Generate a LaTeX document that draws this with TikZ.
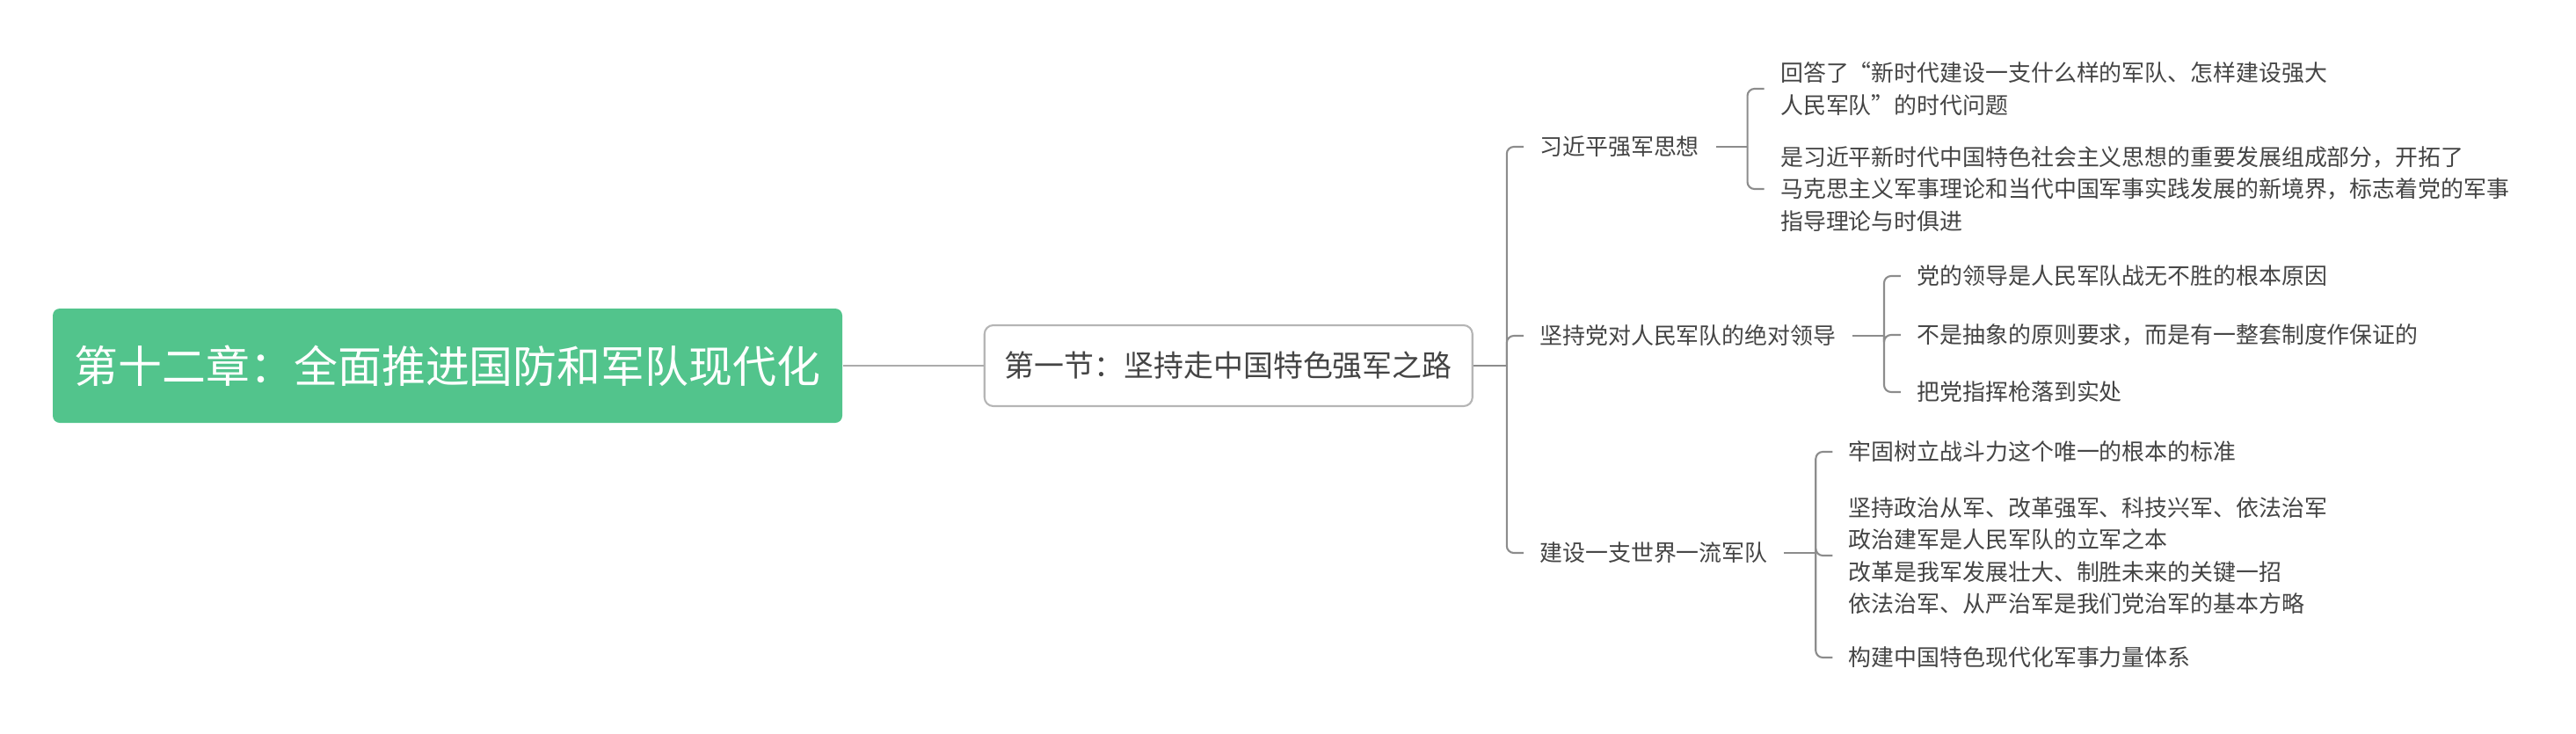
\documentclass[tikz,border=0pt]{standalone}
\usepackage{fontspec}
\newfontfamily\cjk{Noto Sans CJK SC}
\usepackage{tikz}
\usetikzlibrary{positioning}
\definecolor{ColorRoot}{HTML}{52C48C}
\definecolor{ColorLine}{HTML}{8C8C8C}
\definecolor{ColorRootLine}{HTML}{ABABAB}
\definecolor{ColorBorder}{HTML}{B5B5B5}
\definecolor{ColorText}{HTML}{444444}

\begin{document}
\begin{tikzpicture}[
root/.style={
	rectangle,
	fill=ColorRoot,
	rounded corners=0.8mm,
	minimum width=8.98cm,
	minimum height=1.3cm,
	inner sep=0mm,
	font=\cjk\fontsize{14.2pt}{17pt}\selectfont,
	text=white},
section/.style={
	rectangle,
	draw=ColorBorder,
	line width=0.6pt,
	fill=white,
	rounded corners=1mm,
	minimum width=5.55cm,
	minimum height=0.92cm,
	inner sep=0mm,
	font=\cjk\fontsize{9.65pt}{12pt}\selectfont,
	text=ColorText},
topic/.style={
	anchor=west,
	inner xsep=1.8mm,
	inner ysep=1mm,
	font=\cjk\fontsize{7.37pt}{10.35pt}\selectfont,
	text=ColorText},
leaf/.style={
	topic,
	align=left},
link/.style={
	draw,
	line width=0.6pt,
	color=ColorLine,
	rounded corners=0.8mm},
rootlink/.style={
	draw,
	line width=0.6pt,
	color=ColorRootLine}]

\useasboundingbox (0,0) rectangle (29.30,-8.34);

%Root and section
\node[root] (root) at (5.09,-4.16) {第十二章：全面推进国防和军队现代化};
\node[section, right = 1.6cm of root] (sec) {第一节：坚持走中国特色强军之路};
\path[rootlink] (root) to (sec);

\coordinate[right = 3.8mm of sec] (jsec);
\coordinate[right = 1.9mm of jsec] (ksec);

%Topics
\node[topic] (t1) at (ksec |- 0,-1.67) {习近平强军思想};
\node[topic] (t2) at (ksec |- 0,-3.82) {坚持党对人民军队的绝对领导};
\node[topic] (t3) at (ksec |- 0,-6.29) {建设一支世界一流军队};

\path[link] (sec) to (jsec);
\foreach \i in {1,2,3} {
	\path[link] (jsec) |- (t\i.west);
	\coordinate[right = 3.6mm of t\i] (j\i);
	\coordinate[right = 1.9mm of j\i] (k\i);
	\path[link] (t\i) to (j\i);
}

%Leaves
\node[leaf] (l11) at (k1 |- 0,-1.01) {回答了“新时代建设一支什么样的军队、怎样建设强大\\人民军队”的时代问题};
\node[leaf] (l12) at (k1 |- 0,-2.15) {是习近平新时代中国特色社会主义思想的重要发展组成部分，开拓了\\马克思主义军事理论和当代中国军事实践发展的新境界，标志着党的军事\\指导理论与时俱进};

\node[leaf] (l21) at (k2 |- 0,-3.14) {党的领导是人民军队战无不胜的根本原因};
\node[leaf] (l22) at (k2 |- 0,-3.81) {不是抽象的原则要求，而是有一整套制度作保证的};
\node[leaf] (l23) at (k2 |- 0,-4.46) {把党指挥枪落到实处};

\node[leaf] (l31) at (k3 |- 0,-5.14) {牢固树立战斗力这个唯一的根本的标准};
\node[leaf] (l32) at (k3 |- 0,-6.32) {坚持政治从军、改革强军、科技兴军、依法治军\\政治建军是人民军队的立军之本\\改革是我军发展壮大、制胜未来的关键一招\\依法治军、从严治军是我们党治军的基本方略};
\node[leaf] (l33) at (k3 |- 0,-7.48) {构建中国特色现代化军事力量体系};

\foreach \i in {1,2} {
	\path[link] (j1) |- (l1\i.west);
}
\foreach \i in {1,2,3} {
	\path[link] (j2) |- (l2\i.west);
	\path[link] (j3) |- (l3\i.west);
}
\end{tikzpicture}
\end{document}
